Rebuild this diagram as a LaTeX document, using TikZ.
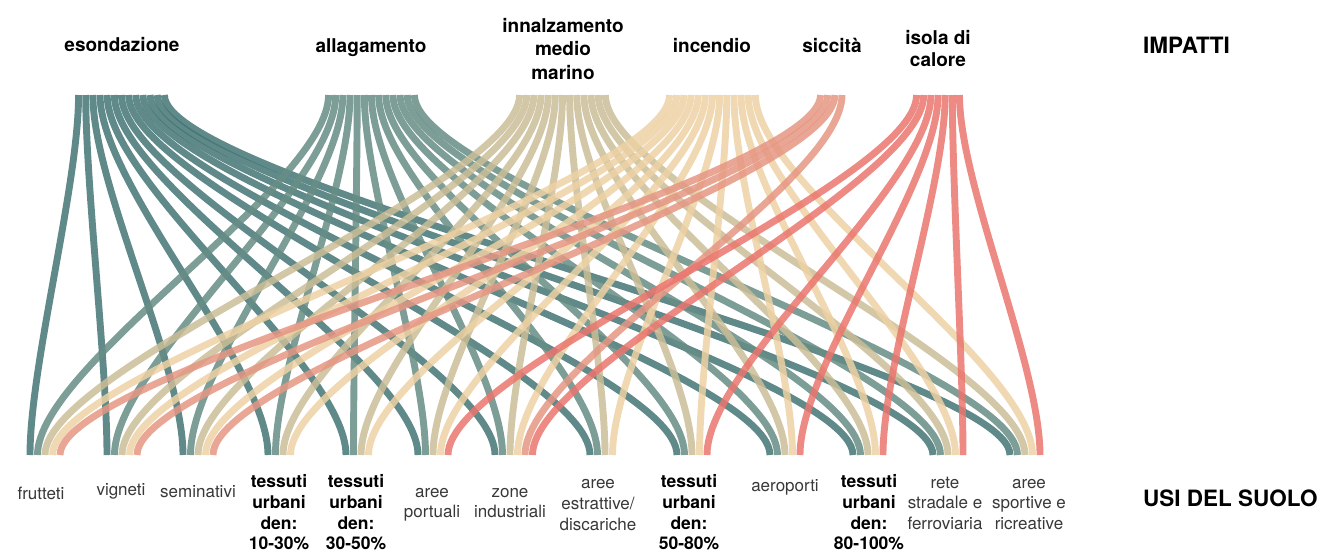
\documentclass[tikz,border=0pt]{standalone}
\usepackage{fontspec}
\setmainfont{TeX Gyre Heros}
\definecolor{ceson}{RGB}{67,117,116}
\definecolor{callag}{RGB}{102,140,133}
\definecolor{cinnal}{RGB}{202,189,150}
\definecolor{cincen}{RGB}{237,209,164}
\definecolor{csicc}{RGB}{229,150,131}
\definecolor{cisola}{RGB}{235,117,110}
\begin{document}
\begin{tikzpicture}[x=1pt,y=-1pt,
  link/.style={line width=6.9pt, line cap=butt, draw opacity=0.85},
  imp/.style={font=\bfseries\fontsize{19}{23}\selectfont, align=center, anchor=north, inner sep=0pt, text=black},
  use/.style={font=\fontsize{17}{20.7}\selectfont, align=center, anchor=north, inner sep=0pt, text=black!78},
  usebold/.style={use, font=\bfseries\fontsize{17.5}{20.7}\selectfont, text=black},
  head/.style={font=\bfseries\fontsize{22.5}{26}\selectfont, anchor=base west, inner sep=0pt, text=black}]
\useasboundingbox (0,0) rectangle (1326,552);
% anchor coordinates: impacts 1-4 reach all 13 land uses
\foreach \i/\tx in {1/75,2/325,3/516,4/666} {
  \foreach \j/\bx [count=\k from 0] in {1/30,2/107,3/183,4/268,5/346,6/418,7/495,8/590,9/677,10/770,11/853,12/933,13/1010} {
    \coordinate (T\i-\j) at ({\tx+7.15*(\k+0.5)},95);
    \coordinate (B\j-\i) at ({\bx+7.5*(\i-1)},455);
  }
}
% siccita
\foreach \j/\bx [count=\k from 0] in {1/30,2/107,3/183,7/495} {
  \coordinate (T5-\j) at ({817+7.15*(\k+0.5)},95);
  \coordinate (B\j-5) at ({\bx+7.5*4},455);
}
% isola di calore
\foreach \j/\bx/\r [count=\k from 0] in {6/418/4,7/495/5,9/677/4,10/770/4,11/853/4,12/933/4,13/1010/4} {
  \coordinate (T6-\j) at ({913+7.15*(\k+0.5)},95);
  \coordinate (B\j-6) at ({\bx+7.5*\r},455);
}
% links
\foreach \i/\col in {1/ceson,2/callag,3/cinnal,4/cincen} {
  \foreach \j in {1,...,13} {
    \draw[link,\col] (T\i-\j) .. controls +(0,90) and +(0,-90) .. (B\j-\i);
  }
}
\foreach \j in {1,2,3,7} {
  \draw[link,csicc] (T5-\j) .. controls +(0,90) and +(0,-90) .. (B\j-5);
}
\foreach \j in {6,7,9,10,11,12,13} {
  \draw[link,cisola] (T6-\j) .. controls +(0,90) and +(0,-90) .. (B\j-6);
}
% impact labels
\node[imp] (i1) at (122,35.4) {\strut esondazione};
\node[imp] (i2) at (371,35.9) {\strut allagamento};
\node[imp, font=\bfseries\fontsize{19}{23.5}\selectfont] (i3) at (563,15.5) {\strut innalzamento\\medio\\marino};
\node[imp] (i4) at (712,35.9) {\strut incendio};
\node[imp] (i5) at (832,35.9) {\strut siccità};
\node[imp, font=\bfseries\fontsize{19}{22}\selectfont] (i6) at (938,28.6) {\strut isola di\\calore};
\node[head] (himp) at (1143,53) {IMPATTI};
% land use labels
\node[use] (u1) at (41,484.5) {\strut frutteti};
\node[use] (u2) at (121,480.5) {\strut vigneti};
\node[use] (u3) at (198,482.5) {\strut seminativi};
\node[usebold] (u4) at (279,473) {\strut tessuti\\urbani\\den:\\10-30\%};
\node[usebold] (u5) at (356,473) {\strut tessuti\\urbani\\den:\\30-50\%};
\node[use] (u6) at (432,482.5) {\strut aree\\portuali};
\node[use] (u7) at (510,482.5) {\strut zone\\industriali};
\node[use] (u8) at (598,474) {\strut aree\\estrattive/\\discariche};
\node[usebold] (u9) at (689,473) {\strut tessuti\\urbani\\den:\\50-80\%};
\node[use] (u10) at (785,476.5) {\strut aeroporti};
\node[usebold] (u11) at (869,473) {\strut tessuti\\urbani\\den:\\80-100\%};
\node[use] (u12) at (945,473.5) {\strut rete\\stradale e\\ferroviaria};
\node[use] (u13) at (1029,473.5) {\strut aree\\sportive e\\ricreative};
\node[head] (huse) at (1143,506) {USI DEL SUOLO};
\end{tikzpicture}
\end{document}
